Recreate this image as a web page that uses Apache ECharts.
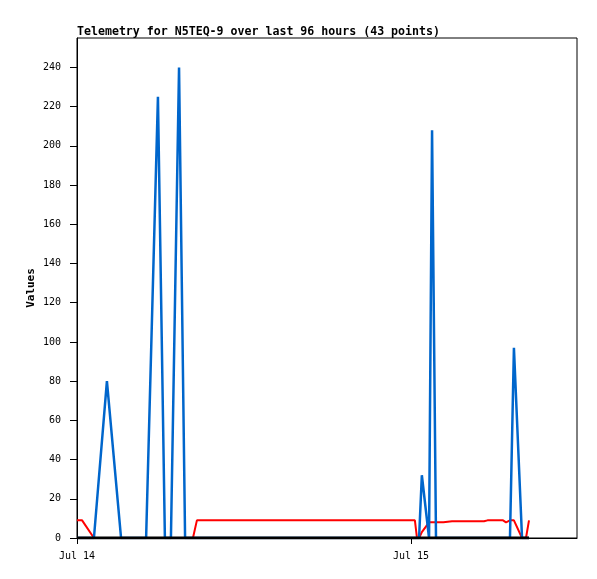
<!DOCTYPE html>
<html>
<head>
<meta charset="utf-8">
<script src="https://cdn.jsdelivr.net/npm/echarts@6/dist/echarts.min.js"></script>
<style>html,body{margin:0;padding:0;background:#fff;}#c{width:597px;height:579px;}</style>
</head>
<body>
<div id="c"></div>
<script>
var titleText = 'Telemetry for N5TEQ-9 over last 96 hours (43 points)';
var yAxisName = 'Values';
var times = [
 '07-14 00:00','07-14 00:22','07-14 01:13','07-14 02:09','07-14 03:10','07-14 04:05','07-14 04:58',
 '07-14 05:49','07-14 06:19','07-14 06:45','07-14 07:20','07-14 07:46','07-14 08:20','07-14 08:37',
 '07-14 09:50','07-14 11:15','07-14 12:40','07-14 14:05','07-14 15:30','07-14 16:55','07-14 18:20',
 '07-14 19:45','07-14 21:10','07-14 22:35',
 '07-15 00:17','07-15 00:26','07-15 00:35','07-15 00:47','07-15 01:18','07-15 01:31','07-15 01:48',
 '07-15 02:20','07-15 02:57','07-15 04:10','07-15 05:15','07-15 05:30','07-15 06:37','07-15 06:50',
 '07-15 07:07','07-15 07:24','07-15 07:59','07-15 08:16','07-15 08:29'
];
var redValues = [
 9,9,0,0,0,0,0,
 0,0,0,0,0,0,9,
 9,9,9,9,9,9,9,
 9,9,9,
 9,0,0,3,8,8,8,
 8,8.5,8.5,8.5,9,9,8,
 9,9,0,0,9
];
var blueValues = [
 0,0,0,80,0,0,0,
 225,0,0,240,0,0,0,
 0,0,0,0,0,0,0,
 0,0,0,
 0,0,0,32,0,208,0,
 0,0,0,0,0,0,0,
 0,97,0,0,0
];
var blackValues = [
 0,0,0,0,0,0,0,
 0,0,0,0,0,0,0,
 0,0,0,0,0,0,0,
 0,0,0,
 0,0,0,0,0,0,0,
 0,0,0,0,0,0,0,
 0,0,0,0,0
];
var yTicks = [0,20,40,60,80,100,120,140,160,180,200,220,240];
var yMax = 255;
var xTickTimes = ['07-14 00:00','07-15 00:00'];
var xMinTime = '07-14 00:00';
var xMaxTime = '07-15 11:56';
var monthNames = ['Jan','Feb','Mar','Apr','May','Jun','Jul','Aug','Sep','Oct','Nov','Dec'];

function parseT(s){
  var mo = parseInt(s.substr(0,2),10)-1, d = parseInt(s.substr(3,2),10);
  var h = parseInt(s.substr(6,2),10), mi = parseInt(s.substr(9,2),10);
  return new Date(2024, mo, d, h, mi).getTime();
}
function pairs(vals){ return times.map(function(t,i){ return [parseT(t), vals[i]]; }); }

var chart = echarts.init(document.getElementById('c'), null, {renderer:'canvas'});
var mono = 'DejaVu Sans Mono';
chart.setOption({
  animation:false,
  backgroundColor:'#fff',
  title:{text:titleText,left:77,top:26,padding:0,
    textStyle:{fontFamily:mono,fontSize:11.6,fontWeight:'bold',color:'#000',lineHeight:12}},
  grid:{left:77,right:20,top:38,bottom:41,show:true,borderColor:'#000',borderWidth:1,backgroundColor:'transparent'},
  xAxis:{type:'value',min:parseT(xMinTime),max:parseT(xMaxTime),scale:true,
    axisLine:{show:true,lineStyle:{color:'#000',width:1}},
    axisTick:{show:true,length:6,lineStyle:{color:'#000'},customValues:xTickTimes.map(parseT)},
    axisLabel:{show:true,margin:13,fontFamily:mono,fontSize:10,color:'#000',
      customValues:xTickTimes.map(parseT),
      formatter:function(v){var d=new Date(v);return monthNames[d.getMonth()]+' '+d.getDate();}},
    splitLine:{show:false}},
  yAxis:{type:'value',min:0,max:yMax,name:yAxisName,nameLocation:'middle',nameGap:40,nameRotate:90,
    nameMoveOverlap:false,
    nameTextStyle:{fontFamily:mono,fontSize:11,fontWeight:'bold',color:'#000'},
    axisLine:{show:true,lineStyle:{color:'#000',width:1}},
    axisTick:{show:true,length:7,lineStyle:{color:'#000'},customValues:yTicks},
    axisLabel:{show:true,margin:16,fontFamily:mono,fontSize:10,color:'#000',customValues:yTicks},
    splitLine:{show:false}},
  series:[
    {name:'red',type:'line',data:pairs(redValues),showSymbol:false,symbol:'none',
      lineStyle:{color:'#ff0000',width:2},itemStyle:{color:'#ff0000'},z:2},
    {name:'blue',type:'line',data:pairs(blueValues),showSymbol:false,symbol:'none',
      lineStyle:{color:'#0066cc',width:2.5},itemStyle:{color:'#0066cc'},z:3},
    {name:'black',type:'line',data:pairs(blackValues),showSymbol:false,symbol:'none',
      lineStyle:{color:'#000',width:3},itemStyle:{color:'#000'},z:4}
  ]
});
</script>
</body>
</html>
